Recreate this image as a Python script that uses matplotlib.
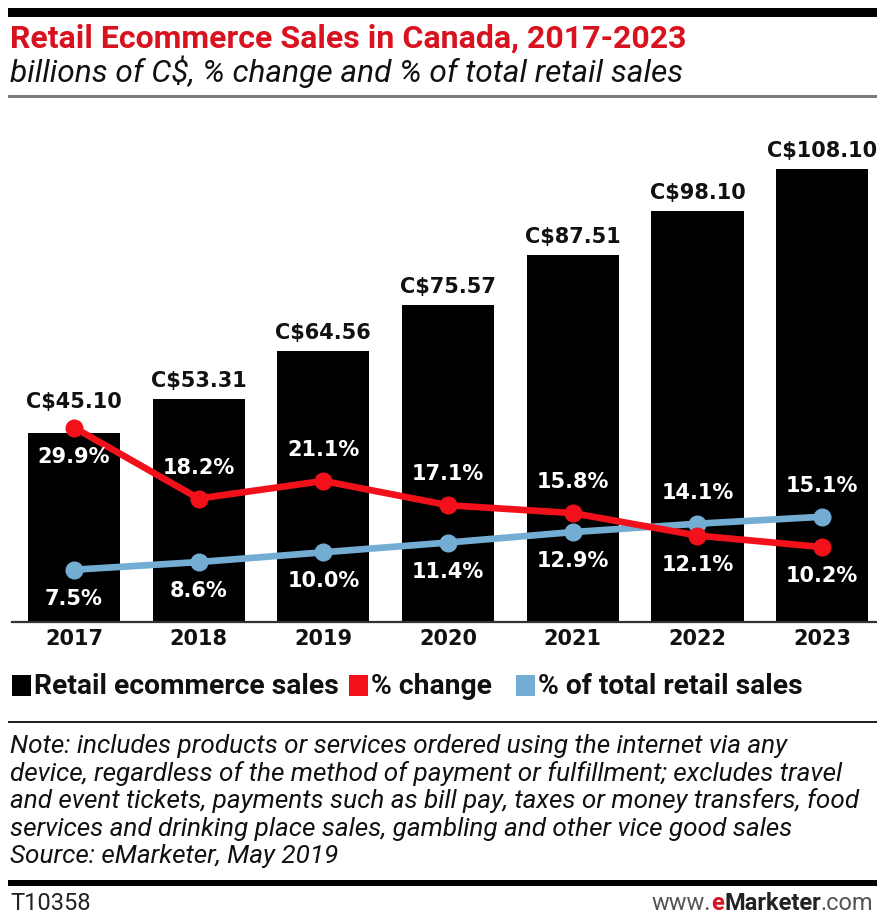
import matplotlib
matplotlib.use("Agg")
import matplotlib.pyplot as plt
from matplotlib.patches import Rectangle
import numpy as np

# ---- data ----
years = ["2017", "2018", "2019", "2020", "2021", "2022", "2023"]
sales = [45.10, 53.31, 64.56, 75.57, 87.51, 98.10, 108.10]          # billions of C$
pct_change = [29.9, 18.2, 21.1, 17.1, 15.8, 12.1, 10.2]             # % change
pct_total = [7.5, 8.6, 10.0, 11.4, 12.9, 14.1, 15.1]                # % of total retail sales

title = "Retail Ecommerce Sales in Canada, 2017-2023"
subtitle = "billions of C$, % change and % of total retail sales"
legend_labels = ["Retail ecommerce sales", "% change", "% of total retail sales"]
note_lines = [
    "Note: includes products or services ordered using the internet via any",
    "device, regardless of the method of payment or fulfillment; excludes travel",
    "and event tickets, payments such as bill pay, taxes or money transfers, food",
    "services and drinking place sales, gambling and other vice good sales",
    "Source: eMarketer, May 2019",
]
chart_id = "T10358"

# ---- styling ----
W, H, DPI = 877, 913, 100
RED = "#f2111a"
BLUE = "#74add4"
TITLE_RED = "#d8121f"
NARROW = ["Roboto", "DejaVu Sans"]
BOLD = ["DejaVu Sans"]


def fy(py):
    return 1 - py / H


def fx(px):
    return px / W


fig = plt.figure(figsize=(W / DPI, H / DPI), dpi=DPI)
fig.patch.set_facecolor("white")


def hrule(y0, y1, x0=8, x1=W, color="black"):
    fig.add_artist(Rectangle((fx(x0), fy(y1)), fx(x1 - x0), (y1 - y0) / H,
                             transform=fig.transFigure, color=color, lw=0))


# header
hrule(8, 17)
fig.text(fx(10), fy(39), title, color=TITLE_RED, fontsize=23, fontweight="bold",
         family=NARROW, va="center", ha="left")
fig.text(fx(10), fy(72), subtitle, color="#111111", fontsize=22.8, style="italic",
         family=NARROW, va="center", ha="left")
hrule(95, 98, color="#7a7a7a")

# ---- chart axes ----
base_px, top_px = 622, 140
ax = fig.add_axes([fx(12), fy(base_px), fx(W - 12), (base_px - top_px) / H])
x = np.arange(len(years))
ax.bar(x, sales, width=0.74, color="black", zorder=1)
ax.set_xlim(-0.497, 6.44)
ax.set_ylim(0, (base_px - top_px) / 4.19)
for s in ["top", "right", "left"]:
    ax.spines[s].set_visible(False)
ax.spines["bottom"].set_color("#333333")
ax.spines["bottom"].set_linewidth(1.6)
ax.set_yticks([])
ax.set_xticks(x, years)
ax.tick_params(axis="x", length=0, pad=5)
for lab in ax.get_xticklabels():
    lab.set_fontsize(15)
    lab.set_fontweight("bold")
    lab.set_family(BOLD)
    lab.set_color("#111111")

ax_red = ax.twinx()
ax_blue = ax.twinx()
for a in (ax_red, ax_blue):
    a.set_axis_off()
    a.set_xlim(ax.get_xlim())
ax_red.set_ylim(-13 / 6.07, (609 - top_px) / 6.07)
ax_blue.set_ylim(0, (base_px - top_px) / 6.97)

ax_blue.plot(x, pct_total, color=BLUE, lw=4.8, marker="o", ms=12, zorder=2,
             solid_capstyle="round")
ax_red.plot(x, pct_change, color=RED, lw=4.8, marker="o", ms=12, zorder=3,
            solid_capstyle="round")
ax_red.set_zorder(3)
ax_blue.set_zorder(2)
ax.set_zorder(1)

marker_r = 8  # px
for i in x:
    bar_top = ax.transData.transform((i, sales[i]))[1]
    red_pt = ax_red.transData.transform((i, pct_change[i]))[1]
    blue_pt = ax_blue.transData.transform((i, pct_total[i]))[1]
    # bar value label sits above the bar, or above the marker if it pokes out
    anchor = max(bar_top, red_pt + marker_r)
    y_data = ax.transData.inverted().transform((0, anchor))[1]
    ax_red.annotate(f"C${sales[i]:.2f}", xy=(i, y_data), xycoords=ax.transData,
                    xytext=(0, 8), textcoords="offset pixels", ha="center",
                    va="bottom", fontsize=15, fontweight="bold", family=BOLD,
                    color="#111111")
    # percentage labels: upper line labelled above, lower line labelled below
    for val, pt, other, axis in ((pct_change[i], red_pt, blue_pt, ax_red),
                                 (pct_total[i], blue_pt, red_pt, ax_blue)):
        above = pt > other and pt < bar_top
        off = 31 if above else -29
        axis.annotate(f"{val:.1f}%", xy=(i, val), xytext=(0, off),
                      textcoords="offset pixels", ha="center", va="center",
                      fontsize=15, fontweight="bold", family=BOLD,
                      color="white", zorder=5)

# ---- legend ----
renderer = fig.canvas.get_renderer()
leg_y = 686
cur = 12
for lab, col, gap in zip(legend_labels, ["black", RED, BLUE], [0, 10, 24]):
    cur += gap
    fig.add_artist(Rectangle((fx(cur), fy(leg_y + 10)), fx(19), 21 / H,
                             transform=fig.transFigure, color=col, lw=0))
    cur += 22
    t = fig.text(fx(cur), fy(leg_y), lab, fontsize=20.3, fontweight="bold",
                 family=NARROW, va="center", ha="left", color="#111111")
    cur = t.get_window_extent(renderer).x1

hrule(721, 723, color="#222222")

# ---- notes ----
for k, line in enumerate(note_lines):
    fig.text(fx(10), fy(746 + 27.5 * k), line, fontsize=18.8, style="italic",
             family=NARROW, va="center", ha="left", color="#111111")

hrule(880, 886)
fig.text(fx(10), fy(903), chart_id, fontsize=17, family=NARROW, va="center",
         ha="left", color="#222222")

# site mark, split into coloured pieces
cur = 652
for part, col, wt in (("www.", "#555555", "normal"), ("e", TITLE_RED, "bold"),
                      ("Marketer", "#222222", "bold"), (".com", "#555555", "normal")):
    t = fig.text(fx(cur), fy(903), part, fontsize=17, family=NARROW,
                 fontweight=wt, color=col, va="center", ha="left")
    cur = t.get_window_extent(renderer).x1

fig.savefig("out.png", dpi=DPI)
